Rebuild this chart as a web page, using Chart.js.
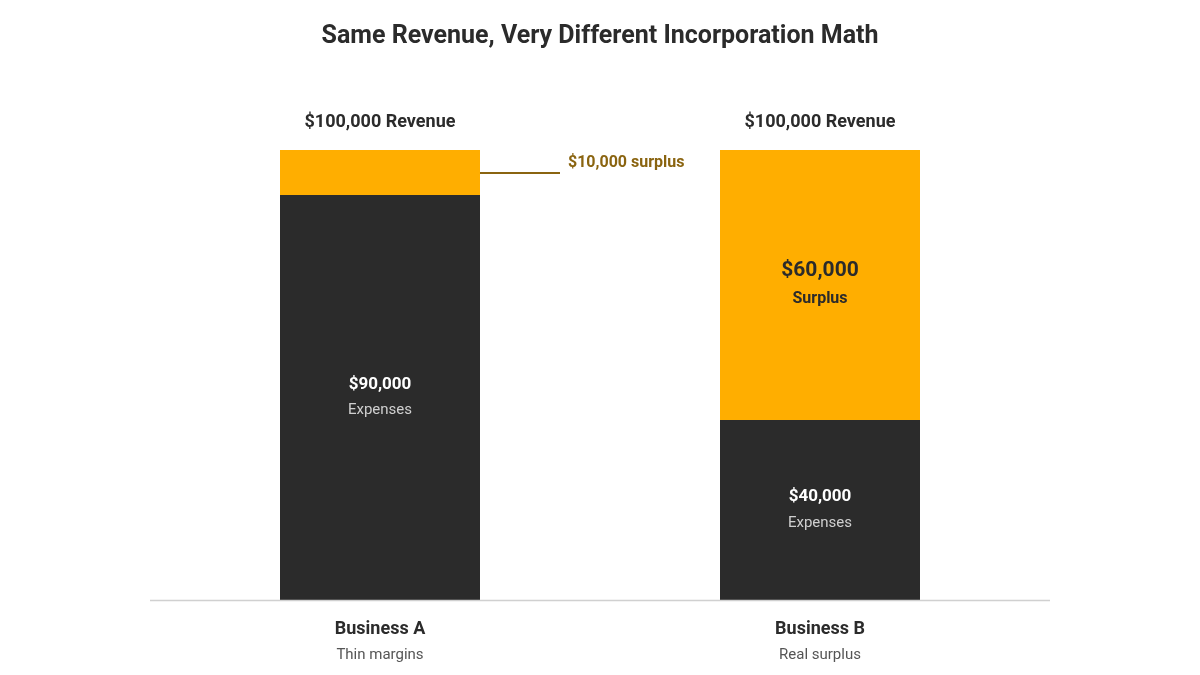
<!DOCTYPE html><html><head><meta charset="utf-8">
<script src="https://cdn.jsdelivr.net/npm/chart.js@4"></script>
<style>html,body{margin:0;background:#fff}#w{width:1200px;height:675px}</style></head><body>
<div id="w"><canvas id="c"></canvas></div>
<script>
const categories=["Business A","Business B"];
const subLabels=["Thin margins","Real surplus"];
const expenses=[90000,40000];
const surplus=[10000,60000];
const revenueLabels=["$100,000 Revenue","$100,000 Revenue"];
const title="Same Revenue, Very Different Incorporation Math";
const F="Roboto, 'Liberation Sans', Arial, sans-serif";
const fmt=v=>"$"+v.toLocaleString("en-US");
const plug={id:"ann",afterDatasetsDraw(ch){
 const c=ch.ctx,x=ch.scales.x,y=ch.scales.y,a=ch.chartArea;
 c.save();c.textAlign="center";c.textBaseline="middle";
 c.fillStyle="#2b2b2b";c.font="bold 25px "+F;c.fillText(title,600,37);
 c.strokeStyle="#d0d0d0";c.lineWidth=1.5;c.beginPath();c.moveTo(150,a.bottom+0.5);c.lineTo(1050,a.bottom+0.5);c.stroke();
 categories.forEach((cat,i)=>{
  const cx=x.getPixelForValue(i);
  c.fillStyle="#2b2b2b";c.font="bold 18px "+F;
  c.fillText(revenueLabels[i],cx,y.getPixelForValue(expenses[i]+surplus[i])-28);
  c.fillText(cat,cx,629);
  c.fillStyle="#555";c.font="15px "+F;c.fillText(subLabels[i],cx,655);
  const em=y.getPixelForValue(expenses[i]/2);
  c.fillStyle="#fff";c.font="bold 17px "+F;c.fillText(fmt(expenses[i]),cx,em-13);
  c.fillStyle="#cfcfcf";c.font="15px "+F;c.fillText("Expenses",cx,em+13);
 });
 // B surplus inside
 const bx=x.getPixelForValue(1),sm=y.getPixelForValue(expenses[1]+surplus[1]/2);
 c.fillStyle="#2b2b2b";c.font="bold 21px "+F;c.fillText(fmt(surplus[1]),bx,sm-14);
 c.font="bold 16px "+F;c.fillText("Surplus",bx,sm+14);
 // A surplus callout
 const ly=y.getPixelForValue(expenses[0]+surplus[0]/2)+0;
 const ax=x.getPixelForValue(0)+100;
 c.strokeStyle="#8a6410";c.lineWidth=2;c.beginPath();c.moveTo(ax,ly+0.5);c.lineTo(ax+80,ly+0.5);c.stroke();
 c.fillStyle="#8a6410";c.font="bold 16px "+F;c.textAlign="left";c.fillText(fmt(surplus[0])+" surplus",ax+88,ly-10);
 c.restore();}};
new Chart(document.getElementById("c"),{type:"bar",
 data:{labels:categories,datasets:[
  {label:"Expenses",data:expenses,backgroundColor:"#2b2b2b"},
  {label:"Surplus",data:surplus,backgroundColor:"#FFAE00"}]},
 options:{responsive:true,maintainAspectRatio:false,animation:false,
  layout:{padding:{left:160,right:160,top:150,bottom:75}},
  datasets:{bar:{barPercentage:1,categoryPercentage:200/440,borderWidth:0}},
  plugins:{legend:{display:false},tooltip:{enabled:false}},
  scales:{x:{stacked:true,display:false},y:{stacked:true,display:false,min:0,max:100000}}},
 plugins:[plug]});
</script></body></html>
